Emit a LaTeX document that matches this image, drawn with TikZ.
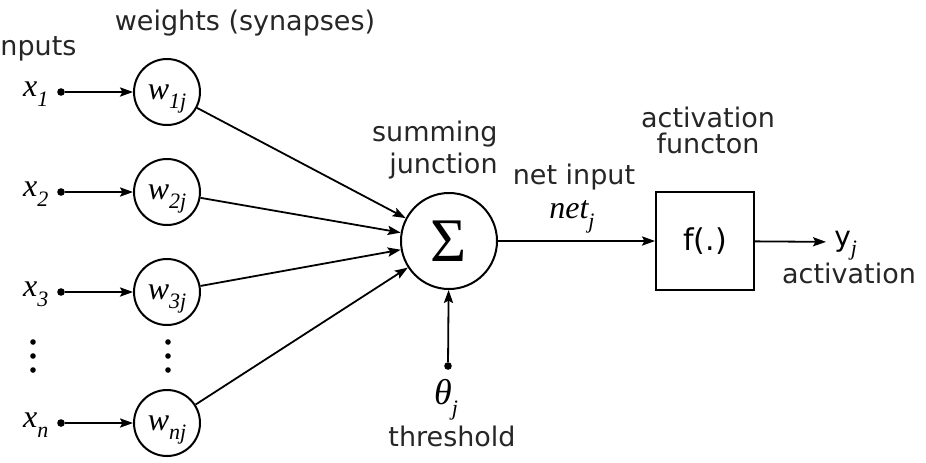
\documentclass[tikz,border=0pt]{standalone}
\usepackage[no-math]{fontspec}
\setmainfont{DejaVu Sans}
\newfontfamily\serifmath{Liberation Serif}
\usepackage{tikz}
\usetikzlibrary{arrows.meta,positioning}
\newcommand{\mvar}[2]{{\itshape #1}\raisebox{-0.3em}[0pt][0pt]{\fontsize{11}{11}\selectfont\itshape #2}}

\begin{document}
\begin{tikzpicture}[
x=0.5pt,y=-0.5pt,
lbl/.style={inner sep=0pt,text=black!85,font=\fontsize{13.5}{13.5}\selectfont},
mth/.style={inner sep=0pt,font=\serifmath\fontsize{16}{16}\selectfont},
wcirc/.style={draw,circle,line width=1pt,minimum size=33pt,inner sep=0pt,font=\serifmath\fontsize{16}{16}\selectfont},
dotpt/.style={circle,fill,inner sep=0pt,minimum size=3.8pt},
arrow/.style={-{Stealth[length=6.5pt,width=4.6pt,inset=1.2pt]},line width=0.9pt}]
\useasboundingbox (0,0) rectangle (926,462);
\node[draw,circle,line width=1pt,minimum size=48pt,inner sep=0pt,font=\serifmath\fontsize{31}{31}\selectfont] (sum) at (449,241) {Σ};
\node[draw,line width=1pt,minimum size=49pt,inner sep=0pt,font=\fontsize{15}{15}\selectfont] (act) at (705,241) {f(.)};
\foreach \i/\y in {1/92,2/192,3/292,n/423}{
  \node[dotpt] (x\i) at (61,\y) {};
  \node[mth,left=4pt of x\i,yshift=1.2pt] (xl\i) {\mvar{x}{\i}};
  \node[wcirc] (w\i) at (167,\y) {\mvar{w}{\i j}};
  \draw[arrow] (x\i) -- (w\i);
  \draw[arrow] (w\i) -- (sum);
}
\foreach \yy in {342,356,370}{
  \fill (33,\yy) circle (1.4pt);
  \fill (168,\yy) circle (1.4pt);
}
\node[dotpt] (th) at (448,366) {};
\draw[arrow] (th) -- (sum);
\node[mth,font=\serifmath\fontsize{18}{18}\selectfont] (theta) at (446,392) {\mvar{θ}{j}};
\node[lbl] (thr) at (452,436) {threshold};
\node[anchor=west,inner sep=4pt,font=\fontsize{14}{14}\selectfont] (yj) at (826,242) {y\raisebox{-0.3em}[0pt][0pt]{\serifmath\itshape\fontsize{11}{11}\selectfont j}};
\draw[arrow] (sum) -- (act);
\draw[arrow] (act) -- (yj);
\node[lbl] (wlab) at (245,23) {weights (synapses)};
\node[lbl,anchor=west] (inlab) at (0,49) {nputs};
\node[lbl,align=right,font=\fontsize{13.5}{16}\selectfont,anchor=east] (sumlab) at (498,150) {summing\\junction};
\node[lbl] (netlab) at (574,177) {net input};
\node[mth] (netj) at (572,210) {\mvar{net}{j}};
\node[lbl,align=center,font=\fontsize{13.5}{13}\selectfont] (actlab) at (708,130) {activation\\functon};
\node[lbl] (outlab) at (849,273) {activation};
\end{tikzpicture}
\end{document}
